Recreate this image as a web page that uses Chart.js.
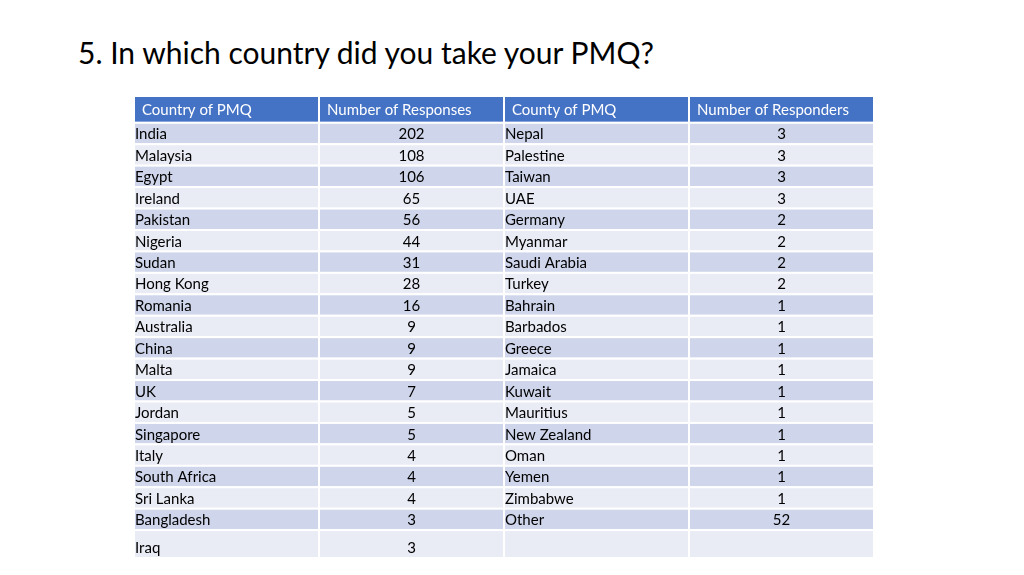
<!DOCTYPE html>
<html lang="en">
  <head>
    <meta charset="UTF-8" />
    <title>PMQ countries</title>
    <style>
      body { margin: 0; background: #fff; }
      h1 { position: absolute; left: 78px; top: 34px; margin: 0; font: 400 30px Lato, sans-serif; color: #000; }
      .wrap { position: absolute; left: 0; top: 0; width: 1024px; height: 575px; }
    </style>
  </head>
  <body>
    <h1>5. In which country did you take your PMQ?</h1>
    <div class="wrap"><canvas id="myChart"></canvas></div>
    <script src="https://cdn.jsdelivr.net/npm/chart.js@4.4.0/dist/chart.umd.min.js"></script>
    <script>
      const headers = ["Country of PMQ", "Number of Responses", "County of PMQ", "Number of Responders"];
      const countriesA = ["India", "Malaysia", "Egypt", "Ireland", "Pakistan", "Nigeria", "Sudan", "Hong Kong", "Romania",
        "Australia", "China", "Malta", "UK", "Jordan", "Singapore", "Italy", "South Africa", "Sri Lanka", "Bangladesh", "Iraq"];
      const responsesA = [202, 108, 106, 65, 56, 44, 31, 28, 16, 9, 9, 9, 7, 5, 5, 4, 4, 4, 3, 3];
      const countriesB = ["Nepal", "Palestine", "Taiwan", "UAE", "Germany", "Myanmar", "Saudi Arabia", "Turkey", "Bahrain",
        "Barbados", "Greece", "Jamaica", "Kuwait", "Mauritius", "New Zealand", "Oman", "Yemen", "Zimbabwe", "Other", ""];
      const responsesB = [3, 3, 3, 3, 2, 2, 2, 2, 1, 1, 1, 1, 1, 1, 1, 1, 1, 1, 52, ""];

      // row heights in row units: header, 19 rows, taller last row
      const rowHeights = [1.25].concat(Array(19).fill(1), [1.3]);
      const rowStarts = [];
      let acc = 0;
      rowHeights.forEach((h) => { rowStarts.push(acc); acc += h; });
      const total = acc;

      const tablePlugin = {
        id: "table",
        afterDatasetsDraw(chart) {
          const { ctx, scales: { x, y } } = chart;
          ctx.save();
          for (let r = 0; r < rowHeights.length; r++) {
            const top = y.getPixelForValue(rowStarts[r]);
            const bot = y.getPixelForValue(rowStarts[r] + rowHeights[r]);
            let fill = r === 0 ? "#4472C4" : (r % 2 === 1 ? "#CFD5EA" : "#E9EBF5");
            for (let c = 0; c < 4; c++) {
              const left = x.getPixelForValue(c);
              const right = x.getPixelForValue(c + 1);
              ctx.fillStyle = fill;
              ctx.fillRect(left, top, right - left, bot - top);
              ctx.strokeStyle = "#fff";
              ctx.lineWidth = 2;
              ctx.strokeRect(left, top, right - left, bot - top);
              let text, align = "left", tx = left + 1;
              if (r === 0) {
                text = headers[c];
                tx = left + 8;
              } else {
                const i = r - 1;
                text = [countriesA[i], responsesA[i], countriesB[i], responsesB[i]][c];
                if (c % 2 === 1) { align = "center"; tx = (left + right) / 2; }
              }
              ctx.fillStyle = r === 0 ? "#fff" : "#000";
              ctx.font = "15px Lato, sans-serif";
              ctx.textAlign = align;
              ctx.textBaseline = "middle";
              const ty = r === rowHeights.length - 1 ? bot - 10 : (top + bot) / 2 + 1;
              ctx.fillText(String(text), tx, ty);
            }
          }
          ctx.restore();
        },
      };

      new Chart(document.getElementById("myChart"), {
        type: "scatter",
        data: { datasets: [{ data: [] }] },
        options: {
          responsive: true,
          maintainAspectRatio: false,
          animation: false,
          layout: { padding: { left: 134, right: 150, top: 96, bottom: 17 } },
          plugins: { legend: { display: false }, tooltip: { enabled: false } },
          scales: {
            x: { type: "linear", min: 0, max: 4, display: false },
            y: { type: "linear", min: 0, max: total, reverse: true, display: false },
          },
        },
        plugins: [tablePlugin],
      });
    </script>
  </body>
</html>
